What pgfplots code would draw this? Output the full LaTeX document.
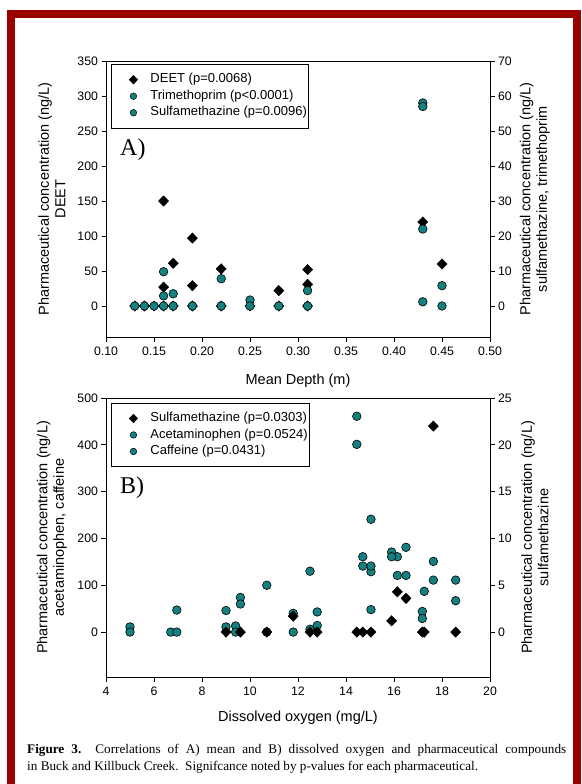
\documentclass[border=0pt]{standalone}
\usepackage{fontspec}
\setmainfont{Liberation Serif}
\newfontfamily\arial{Liberation Sans}
\usepackage{pgfplots}
\pgfplotsset{compat=1.18}

\definecolor{framered}{RGB}{155,0,0}
\definecolor{tealdot}{RGB}{20,128,128}
\newcommand\lf{\arial\fontsize{13}{15}\selectfont}

\pgfplotsset{
  base/.style={
    scale only axis, width=384pt,
    tick align=outside, major tick length=4.5pt,
    axis line style={line width=0.9pt},
    every tick/.style={black, line width=0.8pt},
    tick label style={font=\arial\fontsize{12.3}{14}\selectfont},
    xticklabel style={yshift=-2pt},
    label style={font=\arial\fontsize{14.5}{16.5}\selectfont, align=center},
    /pgf/number format/assume math mode=true,
    legend style={draw=black, line width=0.9pt,
      inner xsep=0pt, inner ysep=7pt, row sep=0pt,
      nodes={font=\lf, text height=10pt, text depth=3.5pt, inner ysep=1.5pt}},
    legend cell align=left,
  },
  limg/.style={legend image code/.code={\path[draw=none] (0pt,0pt) -- (37pt,0pt);
      \path[mark repeat=2, mark phase=2, ##1, draw=none]
      plot coordinates {(0pt,0pt) (22pt,0pt) (37pt,0pt)};}},
  dia/.style={only marks, mark=diamond*, mark size=5.2pt, mark options={black, fill=black, xscale=1.3}},
  dot/.style={only marks, mark=*, mark size=4.3pt, mark options={draw=black, fill=tealdot, line width=0.6pt}},
  ldia/.style={only marks, mark=diamond*, mark size=4pt, mark options={draw=black, fill=black, xscale=1.3}, limg},
  ldot/.style={only marks, mark=*, mark size=3.3pt, mark options={draw=black, fill=tealdot, line width=0.5pt}, limg},
}

\begin{document}
\begin{tikzpicture}
\fill[white] (0pt,0pt) rectangle (581pt,-784pt);
\fill[framered] (7pt,-10pt) rectangle (581pt,-784pt);
\fill[white] (15pt,-18pt) rectangle (573pt,-784pt);

% ---------- panel A ----------
\begin{axis}[base, at={(106pt,-337pt)}, anchor=south west, height=276pt,
  xmin=0.10, xmax=0.50, xtick={0.10,0.15,...,0.50}, xtick pos=bottom,
  xticklabel style={/pgf/number format/.cd, fixed, fixed zerofill, precision=2},
  ymin=-44.3, ymax=350, ytick={0,50,...,350}, ytick pos=left,
  xlabel={Mean Depth (m)},
  xlabel style={at={(axis description cs:0.5,-0.159)}, anchor=center},
  ylabel={Pharmaceutical concentration (ng/L)\\DEET},
  ylabel style={at={(axis description cs:-0.141,0.5)}, anchor=center},
]
\addplot[dia] coordinates {
  (0.13,0) (0.14,0) (0.15,0) (0.16,0) (0.16,150) (0.16,27) (0.17,61) (0.17,0)
  (0.19,97) (0.19,29) (0.19,0) (0.22,53) (0.22,0) (0.25,0) (0.28,22) (0.28,0)
  (0.31,52) (0.31,31) (0.31,0) (0.43,120) (0.45,60)
};
\end{axis}
\begin{axis}[base, at={(106pt,-337pt)}, anchor=south west, height=276pt,
  xmin=0.10, xmax=0.50, axis x line=none,
  axis y line*=right,
  ymin=-8.86, ymax=70, ytick={0,10,...,70},
  ylabel={Pharmaceutical concentration (ng/L)\\sulfamethazine, trimethoprim},
  ylabel style={at={(axis description cs:1.117,0.5)}, anchor=center},
  legend style={at={(axis description cs:0.013,0.989)}, anchor=north west},
]
\addlegendimage{ldia}\addlegendentry{DEET (p=0.0068)}
\addlegendimage{ldot}\addlegendentry{Trimethoprim (p<0.0001)}
\addlegendimage{ldot}\addlegendentry{Sulfamethazine (p=0.0096)}
% trimethoprim
\addplot[dot, forget plot] coordinates {
  (0.13,0) (0.15,0) (0.16,9.8) (0.17,3.5) (0.19,0) (0.22,7.8) (0.25,1.7)
  (0.28,0) (0.31,4.4) (0.43,58) (0.43,22) (0.45,5.8)
};
% sulfamethazine
\addplot[dot, forget plot] coordinates {
  (0.14,0) (0.16,2.9) (0.16,0) (0.17,0) (0.22,0) (0.25,0) (0.31,0)
  (0.43,57) (0.43,1.2) (0.45,0)
};
\end{axis}
\node[font=\fontsize{24}{26}\selectfont, anchor=west, inner sep=0pt] at (120pt,-150pt) {A)};

% ---------- panel B ----------
\begin{axis}[base, at={(106pt,-677pt)}, anchor=south west, height=279pt,
  xmin=4, xmax=20, xtick={4,6,...,20}, xtick pos=bottom,
  ymin=-96, ymax=500, ytick={0,100,...,500}, ytick pos=left,
  xlabel={Dissolved oxygen (mg/L)},
  xlabel style={at={(axis description cs:0.5,-0.145)}, anchor=center},
  ylabel={Pharmaceutical concentration (ng/L)\\acetaminophen, caffeine},
  ylabel style={at={(axis description cs:-0.141,0.5)}, anchor=center},
]
% acetaminophen
\addplot[dot] coordinates {
  (5.0,11) (6.7,0) (6.95,47) (9.0,46) (9.4,13) (9.6,74) (10.7,100) (11.8,40)
  (12.5,130) (12.8,43) (14.45,461) (14.7,161) (15.04,241) (15.04,129)
  (15.9,171) (16.14,161) (16.5,181) (17.18,44) (17.64,151) (18.57,111)
};
% caffeine
\addplot[dot] coordinates {
  (5.0,0) (6.95,0) (9.0,11) (9.4,0) (9.6,60) (10.7,0) (11.8,0) (12.5,6)
  (12.8,14) (14.45,401) (14.7,141) (15.04,141) (15.04,48) (15.9,161)
  (16.14,121) (16.5,121) (17.18,29) (17.26,87) (17.64,111) (18.57,67)
};
\end{axis}
\begin{axis}[base, at={(106pt,-677pt)}, anchor=south west, height=279pt,
  xmin=4, xmax=20, axis x line=none,
  axis y line*=right,
  ymin=-4.8, ymax=25, ytick={0,5,...,25},
  ylabel={Pharmaceutical concentration (ng/L)\\sulfamethazine},
  ylabel style={at={(axis description cs:1.117,0.5)}, anchor=center},
  legend style={at={(axis description cs:0.013,0.983)}, anchor=north west},
]
\addlegendimage{ldia}\addlegendentry{Sulfamethazine (p=0.0303)}
\addlegendimage{ldot}\addlegendentry{Acetaminophen (p=0.0524)}
\addlegendimage{ldot}\addlegendentry{Caffeine (p=0.0431)}
\addplot[dia, forget plot] coordinates {
  (9.0,0) (9.6,0) (10.7,0) (11.8,1.7) (12.5,0) (12.8,0) (14.45,0) (14.7,0)
  (15.04,0) (15.9,1.2) (16.14,4.3) (16.5,3.6) (17.18,0) (17.26,0)
  (17.64,22) (18.57,0)
};
\end{axis}
\node[font=\fontsize{24}{26}\selectfont, anchor=west, inner sep=0pt] at (120pt,-488pt) {B)};

% ---------- caption ----------
\node[anchor=north west, inner sep=0pt, text width=539pt, align=justify,
  font=\fontsize{13.2}{17}\selectfont] at (27pt,-744pt)
  {\textbf{Figure 3.}\ \ Correlations of A) mean and B) dissolved oxygen and pharmaceutical compounds\linebreak in Buck and Killbuck Creek.\ \ Signifcance noted by p-values for each pharmaceutical.};
\end{tikzpicture}
\end{document}
